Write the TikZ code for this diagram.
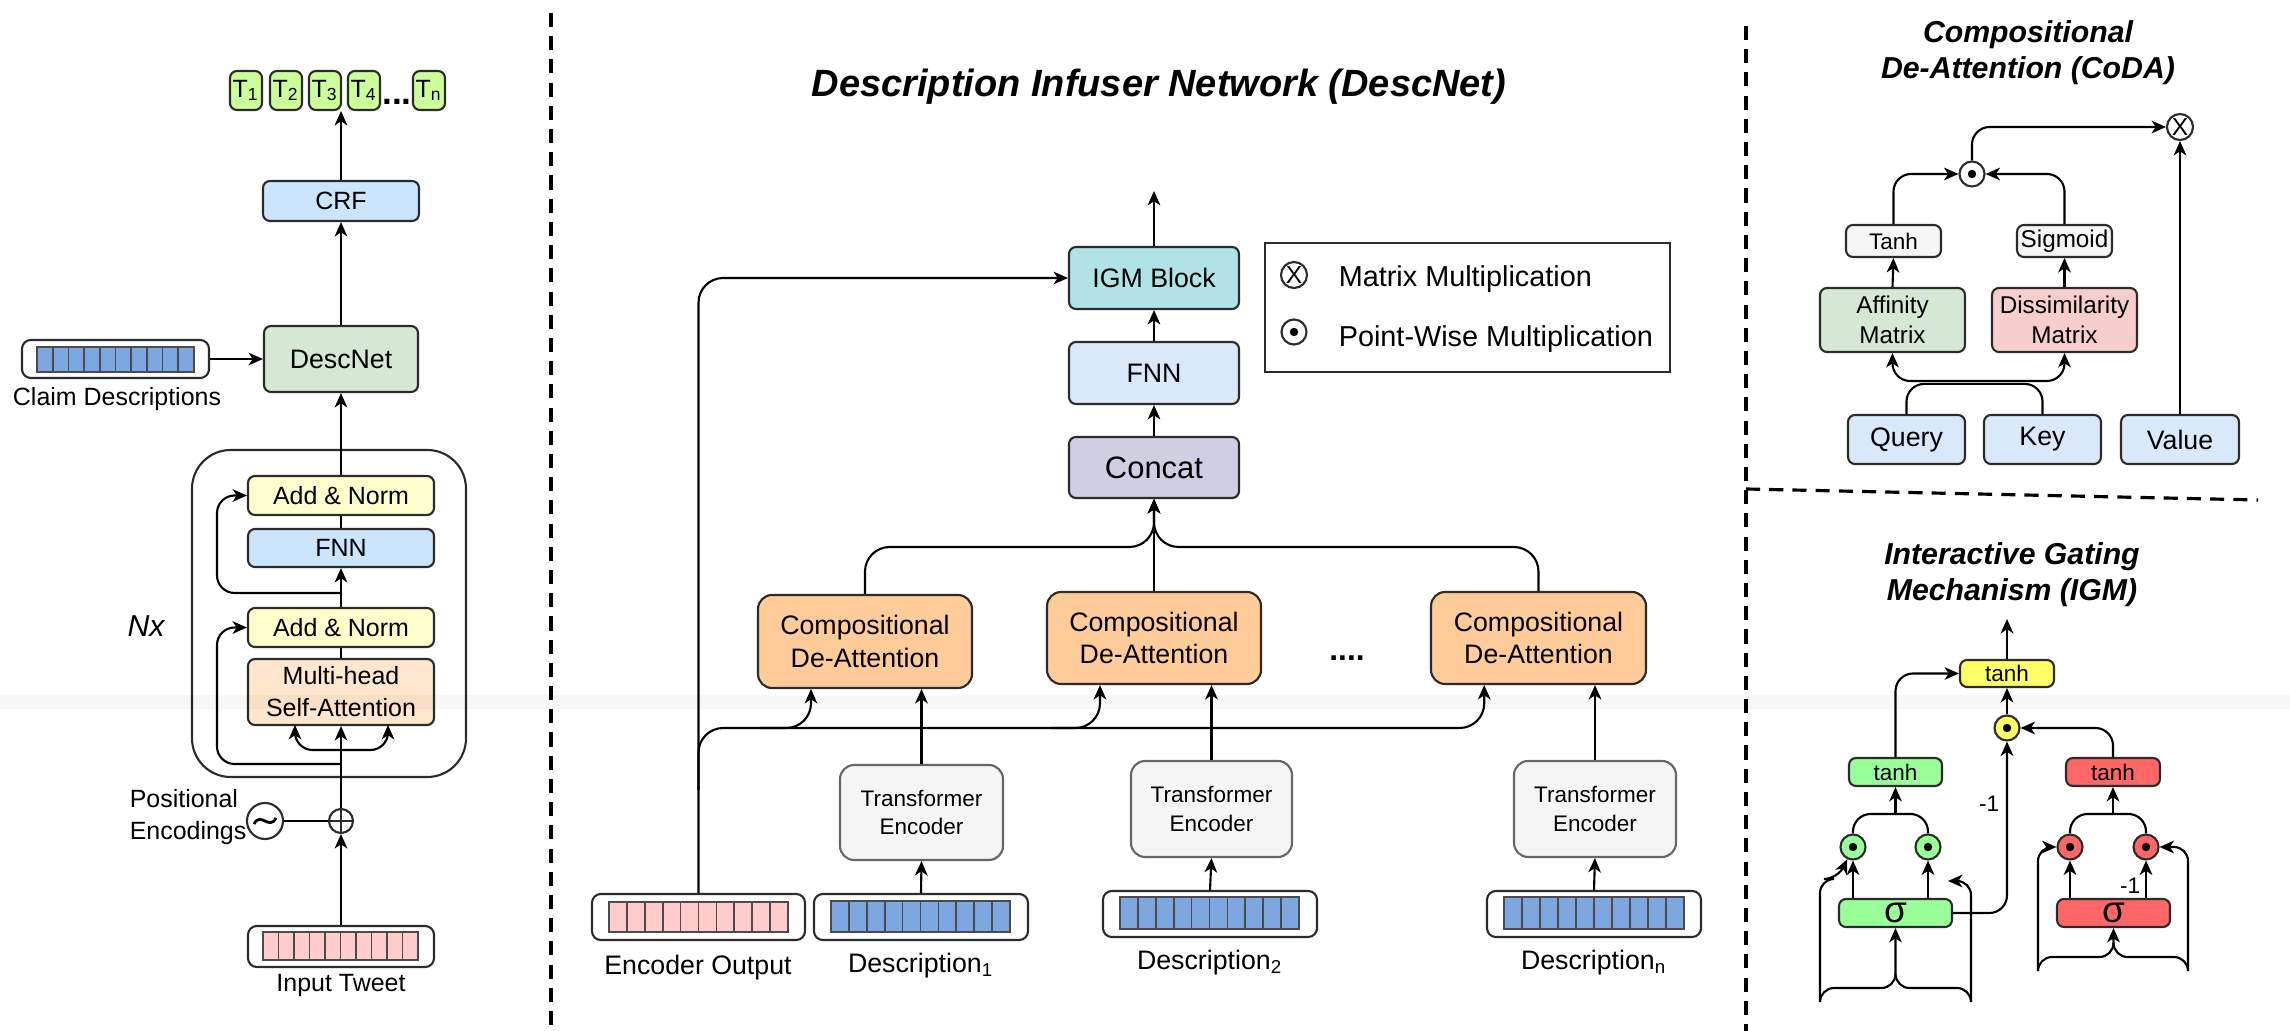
\documentclass[tikz,border=0pt]{standalone}
\usepackage{fontspec}
\setmainfont{Liberation Sans}
\usetikzlibrary{arrows.meta,calc}

\definecolor{bd}{HTML}{2B2B2B}
\definecolor{tgreen}{HTML}{CCFF99}
\definecolor{lblue}{HTML}{CCE5FF}
\definecolor{pblue}{HTML}{DAE8FC}
\definecolor{pgreen}{HTML}{D5E8D4}
\definecolor{pyellow}{HTML}{FFFFCC}
\definecolor{porange}{HTML}{FFE6CC}
\definecolor{corange}{HTML}{FFCC99}
\definecolor{cblue}{HTML}{7EA6E0}
\definecolor{cpink}{HTML}{FFCCCC}
\definecolor{igmteal}{HTML}{B0E3E6}
\definecolor{lilac}{HTML}{D0CEE2}
\definecolor{lgray}{HTML}{F5F5F5}
\definecolor{mgray}{HTML}{666666}
\definecolor{pred}{HTML}{F8CECC}
\definecolor{gyellow}{HTML}{FFFF66}
\definecolor{ggreen}{HTML}{99FF99}
\definecolor{gred}{HTML}{FF6666}

% box from corner (x1,y1) to (x2,y2), in pixel units
\newcommand\mkbox[7]{\node[#6, minimum width={(#4-#2)*0.01cm}, minimum height={(#5-#3)*0.01cm}] (#1) at ({(#2+#4)/2},{(#3+#5)/2}) {#7};}
% a strip of n equal cells
\newcommand\cellstrip[6]{\foreach \ci in {1,...,#6}{\draw[cellst, fill=#5] ({#1+(\ci-1)*(#3-#1)/#6},#2) rectangle ({#1+\ci*(#3-#1)/#6},#4);}}

\begin{document}
\begin{tikzpicture}[x=0.01cm, y=-0.01cm, line width=0.6pt,
  arr/.style={-{Stealth[length=4.1pt,width=3.6pt,inset=1.2pt]}},
  rc/.style={rounded corners=5pt},
  box/.style={draw=bd, line width=0.6pt, rounded corners=2pt, inner sep=0pt, align=center},
  cbox/.style={box, fill=corange, rounded corners=4pt},
  tebox/.style={box, draw=mgray, fill=lgray, rounded corners=4pt},
  vbox/.style={box, fill=white, rounded corners=2.5pt},
  cellst/.style={draw=bd!85, line width=0.5pt},
  dashline/.style={line width=0.9pt, dash pattern=on 4pt off 2.6pt},
  fA/.style={font=\fontsize{7.1}{9.1}\selectfont},
  fB/.style={font=\fontsize{7.6}{9.2}\selectfont},
  fC/.style={font=\fontsize{6.4}{8.2}\selectfont},
  fD/.style={font=\fontsize{6.9}{8.5}\selectfont},
  fE/.style={font=\fontsize{8.2}{10}\selectfont},
  ftitle/.style={font=\fontsize{8.6}{10.2}\selectfont\bfseries\itshape, align=center},
  odot/.style={circle, draw=bd, line width=0.6pt, fill=white, minimum size=0.25cm, inner sep=0pt,
    path picture={\fill[black] (path picture bounding box.center) circle (1.2pt);}},
  otimes/.style={circle, draw=bd, line width=0.6pt, fill=white, minimum size=0.26cm, inner sep=0pt,
    font=\fontsize{7}{7}\selectfont},
  oplus/.style={circle, draw=bd, line width=0.6pt, fill=white, minimum size=0.24cm, inner sep=0pt,
    path picture={\draw[line width=0.6pt] (path picture bounding box.north) -- (path picture bounding box.south)
      (path picture bounding box.west) -- (path picture bounding box.east);}},
]
\useasboundingbox (0,0) rectangle (2290,1031);
\fill[white] (0,0) rectangle (2290,1031);

% ---------------- separators ----------------
\draw[dashline] (551,13) -- (551,1031);
\draw[dashline] (1746,26) -- (1746,1031);
\draw[dashline] (1746,489) -- (2258,500);

% ================= tagging model =================
\mkbox{t1}{230}{71}{262}{110}{box, fill=tgreen, fA}{T\textsubscript{1}}
\mkbox{t2}{270}{71}{302}{110}{box, fill=tgreen, fA}{T\textsubscript{2}}
\mkbox{t3}{309}{71}{341}{110}{box, fill=tgreen, fA}{T\textsubscript{3}}
\mkbox{t4}{348}{71}{380}{110}{box, fill=tgreen, fA}{T\textsubscript{4}}
\mkbox{tn}{413}{71}{445}{110}{box, fill=tgreen, fA}{T\textsubscript{n}}
\node[fA, font=\bfseries] (tdots) at (397,102) {...};
\coordinate (tout) at (341,111);

\mkbox{crf}{263}{181}{419}{221}{box, fill=lblue, fA}{CRF}
\mkbox{descnet}{264}{326}{418}{392}{box, fill=pgreen, fB}{DescNet}

\mkbox{claim}{22}{340}{209}{378}{vbox}{}
\cellstrip{37}{347}{194}{372}{cblue}{10}
\node[fA] (claimlbl) at (117,399) {Claim Descriptions};

\mkbox{nx}{192}{450}{466}{777}{draw=bd, line width=0.6pt, rounded corners=11pt}{}
\mkbox{an1}{248}{476}{434}{515}{box, fill=pyellow, fA}{Add \& Norm}
\mkbox{fnna}{248}{529}{434}{567}{box, fill=lblue, fA}{FNN}
\mkbox{an2}{248}{608}{434}{647}{box, fill=pyellow, fA}{Add \& Norm}
\mkbox{mhsa}{248}{659}{434}{725}{box, fill=porange, fA}{Multi-head\\Self-Attention}
\node[font=\fontsize{8.6}{10}\selectfont\itshape] (nxl) at (146,626) {Nx};

\node[circle, draw=bd, line width=0.6pt, minimum size=0.36cm, inner sep=0pt] (pe) at (265,821) {};
\draw[line width=0.8pt] ($(pe.center)+(-11,3)$) .. controls ($(pe.center)+(-4,-10)$) and ($(pe.center)+(4,10)$) .. ($(pe.center)+(11,-3)$);
\node[oplus] (plus) at (341,821) {};
\node[fA, align=left, anchor=west] (pelbl) at (117,817) {Positional\\Encodings};

\mkbox{intw}{248}{926}{434}{967}{vbox}{}
\cellstrip{263}{932}{418}{960}{cpink}{10}
\node[fA] (intwlbl) at (341,986) {Input Tweet};

% connectors
\draw[arr] (crf.north) -- (tout);
\draw[arr] (descnet.north) -- (crf.south);
\draw[arr] (claim.east) -- (descnet.west);
\draw[arr] (an1.north) -- (descnet.south);
\draw (fnna.north) -- (an1.south);
\draw[arr] (an2.north) -- (fnna.south);
\draw (mhsa.north) -- (an2.south);
\draw[arr, rc] (341,593) -| (217,495.5) -- (an1.west);
\draw[arr, rc] (341,764) -| (217,627.5) -- (an2.west);
\draw[arr] (plus.north) -- (mhsa.south);
\draw[arr, rc] (341,750) -| (295,725);
\draw[arr, rc] (341,750) -| (388,725);
\draw (pe.east) -- (plus.west);
\draw[arr] (intw.north) -- (plus.south);

% ================= DescNet =================
\node[font=\fontsize{10.8}{13}\selectfont\bfseries\itshape] (title) at (1159,87) {Description Infuser Network (DescNet)};

\mkbox{igm}{1069}{247}{1239}{309}{box, fill=igmteal, fB}{IGM Block}
\mkbox{fnnb}{1069}{342}{1239}{404}{box, fill=pblue, fB}{FNN}
\mkbox{concat}{1069}{437}{1239}{498}{box, fill=lilac, font=\fontsize{8.8}{10}\selectfont}{Concat}
\coordinate (igmout) at (1154,191);

\mkbox{legend}{1265}{243}{1670}{372}{draw=bd, line width=0.6pt}{}
\node[otimes] (lx) at (1294,275) {X};
\node[odot] (ld) at (1294,332) {};
\node[fE, anchor=west] (lxt) at (1326,279) {Matrix Multiplication};
\node[fE, anchor=west] (ldt) at (1326,339) {Point-Wise Multiplication};

\mkbox{codaa}{758}{595}{972}{688}{cbox, fB}{Compositional\\De-Attention}
\mkbox{codab}{1047}{592}{1261}{684}{cbox, fB}{Compositional\\De-Attention}
\mkbox{codac}{1431}{592}{1646}{684}{cbox, fB}{Compositional\\De-Attention}
\node[font=\fontsize{9}{10}\selectfont\bfseries] (cdots) at (1347,658) {....};

\mkbox{tea}{840}{765}{1003}{860}{tebox, fC}{Transformer\\Encoder}
\mkbox{teb}{1131}{761}{1292}{857}{tebox, fC}{Transformer\\Encoder}
\mkbox{tec}{1514}{761}{1676}{857}{tebox, fC}{Transformer\\Encoder}

\mkbox{encout}{592}{894}{805}{940}{vbox}{}
\cellstrip{609}{902}{788}{932}{cpink}{10}
\mkbox{da}{814}{894}{1028}{940}{vbox}{}
\cellstrip{831}{901}{1010}{932}{cblue}{10}
\mkbox{db}{1103}{891}{1317}{937}{vbox}{}
\cellstrip{1120}{897}{1299}{929}{cblue}{10}
\mkbox{dc}{1487}{891}{1701}{937}{vbox}{}
\cellstrip{1504}{897}{1684}{929}{cblue}{10}

\node[fB] (encl) at (698,968) {Encoder Output};
\node[fB] (dal) at (921,966) {Description\textsubscript{1}};
\node[fB] (dbl) at (1210,963) {Description\textsubscript{2}};
\node[fB] (dcl) at (1594,963) {Description\textsubscript{n}};

% connectors
\draw[arr] (igm.north) -- (igmout);
\draw[arr] (fnnb.north) -- (igm.south);
\draw[arr] (concat.north) -- (fnnb.south);
\draw[arr] (codab.north) -- (concat.south);
\draw[arr, rounded corners=7pt] (codaa.north) |- (1154,547) -- (concat.south);
\draw[arr, rounded corners=7pt] (codac.north) |- (1154,547) -- (concat.south);
\draw[arr, rounded corners=7pt] (encout.north) |- (igm.west);

\coordinate (bus) at (698.5,728);
\coordinate (ba) at ($(codaa.south west)!0.25!(codaa.south east)$);
\coordinate (bb) at ($(codab.south west)!0.25!(codab.south east)$);
\coordinate (bc) at ($(codac.south west)!0.25!(codac.south east)$);
\draw[arr, rounded corners=7pt] (698.5,790) -- (bus) -| (ba);
\draw[arr, rounded corners=7pt] (760,728) -| (bb);
\draw[arr, rounded corners=7pt] (1050,728) -| (bc);

\draw[arr] (tea.north) -- (tea.north |- codaa.south);
\draw[arr] (teb.north) -- (teb.north |- codab.south);
\draw[arr] (tec.north) -- (tec.north |- codac.south);
\draw[arr] (da.north) -- (tea.south);
\draw[arr] (db.north) -- (teb.south);
\draw[arr] (dc.north) -- (tec.south);

% ================= CoDA =================
\node[ftitle] (codatitle) at (2028,53) {Compositional\\De-Attention (CoDA)};
\node[otimes] (ox) at (2180,127) {X};
\node[odot] (od) at (1972,174) {};
\mkbox{tanhc}{1846}{225}{1941}{257}{box, fill=lgray, fC}{Tanh}
\mkbox{sigc}{2017}{225}{2112}{257}{box, fill=lgray, fD}{Sigmoid}
\mkbox{aff}{1820}{288}{1965}{352}{box, fill=pgreen, fD}{Affinity\\Matrix}
\mkbox{dis}{1992}{288}{2137}{352}{box, fill=pred, fD}{Dissimilarity\\Matrix}
\mkbox{query}{1848}{415}{1965}{464}{box, fill=pblue, fB}{Query}
\mkbox{key}{1984}{415}{2101}{464}{box, fill=pblue, fB}{Key}
\mkbox{value}{2121}{415}{2239}{464}{box, fill=pblue, fB}{Value}

\draw[arr, rc] (tanhc.north) |- (od.west);
\draw[arr, rc] (sigc.north) |- (od.east);
\draw[arr, rc] (od.north) |- (ox.west);
\draw[arr] (value.north) -- (ox.south);
\draw[arr] (aff.north) -- (tanhc.south);
\draw[arr] (dis.north) -- (sigc.south);
\draw[rc] (query.north) -- ++(0,-30) -| (key.north);
\coordinate (qk) at (1978,381);
\draw[arr, rc] (qk) -| (aff.south);
\draw[arr, rc] (qk) -| (dis.south);

% ================= IGM =================
\node[ftitle] (igmtitle) at (2012,575) {Interactive Gating\\Mechanism (IGM)};
\mkbox{ytanh}{1960}{660}{2054}{687}{box, fill=gyellow, fC}{tanh}
\node[odot, fill=gyellow] (yd) at (2007,728) {};
\mkbox{gtanh}{1849}{758}{1942}{786}{box, fill=ggreen, fC}{tanh}
\mkbox{rtanh}{2066}{758}{2160}{786}{box, fill=gred, fC}{tanh}
\mkbox{gsig}{1839}{899}{1952}{927}{box, fill=ggreen, font=\fontsize{10.5}{10}\selectfont}{σ}
\mkbox{rsig}{2057}{899}{2170}{927}{box, fill=gred, font=\fontsize{10.5}{10}\selectfont}{σ}
\node[odot, fill=ggreen] (gc1) at (1853,847) {};
\node[odot, fill=ggreen] (gc2) at (1928,847) {};
\node[odot, fill=gred] (rc1) at (2070,847) {};
\node[odot, fill=gred] (rc2) at (2146,847) {};
\coordinate (igmout2) at (2007,619);

\draw[arr] (ytanh.north) -- (igmout2);
\draw[arr] (yd.north) -- (ytanh.south);
\draw[arr, rc] (gtanh.north) |- (ytanh.west);
\draw[arr, rc] (rtanh.north) |- (yd.east);
\draw[arr, rc] (gsig.east) -| (yd.south);
\node[fC] (neg1) at (1989,804) {-1};

\coordinate (gm) at (1895.5,814);
\coordinate (rm) at (2113,814);
\draw[rc] (gc1.north) |- (gm) -| (gc2.north);
\draw[arr] (gm) -- (gtanh.south);
\draw[rc] (rc1.north) |- (rm) -| (rc2.north);
\draw[arr] (rm) -- (rtanh.south);

\draw[arr] (gc1 |- gsig.north) -- (gc1.south);
\draw[arr] (gc2 |- gsig.north) -- (gc2.south);
\draw[arr] (rc1 |- rsig.north) -- (rc1.south);
\draw[arr] (rc2 |- rsig.north) -- (rc2.south);
\node[fC] (neg2) at (2130,886) {-1};

% input braces
\coordinate (gbl) at (1820,1002);
\coordinate (gbr) at (1971,1002);
\coordinate (gbc) at (1895.5,988);
\draw[arr, rounded corners=4pt] (gbl) |- (gbc) -- (gsig.south);
\draw[rounded corners=4pt] (gbr) |- (gbc) -- ++(0,-10);
\coordinate (gin) at (1838,879);
\draw[arr, rounded corners=4pt] (gbl) |- (gin) -- (gc1.-115);
\coordinate (gdang) at (1948,881);
\draw[arr, rounded corners=4pt] (gbr) |- (gdang);

\coordinate (rbl) at (2038,969);
\coordinate (rbr) at (2188,969);
\coordinate (rbc) at (2113.5,957);
\draw[arr, rounded corners=4pt] (rbl) |- (rbc) -- (rsig.south);
\draw[rounded corners=4pt] (rbr) |- (rbc) -- ++(0,-10);
\draw[arr, rounded corners=4pt] (rbl) |- (rc1.west);
\draw[arr, rounded corners=4pt] (rbr) |- (rc2.east);

% faint band across the sheet
\fill[black, opacity=0.03] (0,695) rectangle (2290,709);
\end{tikzpicture}
\end{document}
